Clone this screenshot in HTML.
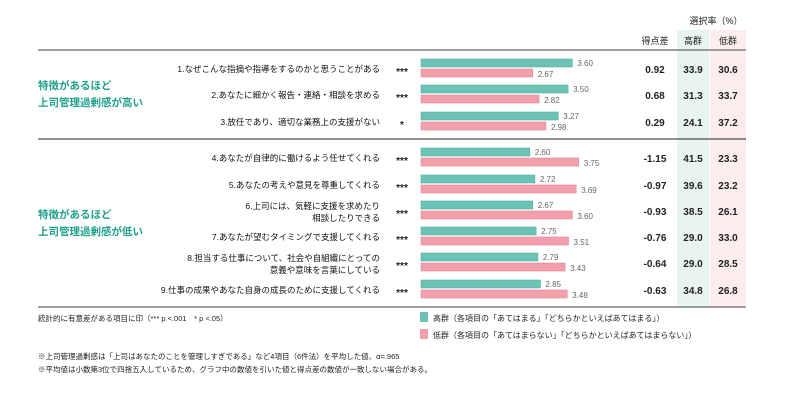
<!DOCTYPE html>
<html><head><meta charset="utf-8">
<style>
body{margin:0;background:#fff;width:790px;height:404px;overflow:hidden;font-family:"Liberation Sans","Noto Sans CJK JP",sans-serif;}
svg text{font-family:"Liberation Sans","Noto Sans CJK JP",sans-serif;}
</style></head>
<body>
<svg id="chart" width="790" height="404" xmlns="http://www.w3.org/2000/svg">
<rect x="677" y="30" width="32" height="277" fill="#e9f4f1"/>
<rect x="710" y="30" width="36" height="277" fill="#fcedef"/>
<text x="716" y="24" font-size="9" text-anchor="middle" fill="#222">選択率（%）</text>
<text x="655" y="44" font-size="9" text-anchor="middle" fill="#222">得点差</text>
<text x="693" y="44" font-size="9" text-anchor="middle" fill="#222">高群</text>
<text x="728" y="44" font-size="9" text-anchor="middle" fill="#222">低群</text>
<line x1="38" y1="50" x2="746" y2="50" stroke="#666" stroke-width="1.2"/>
<line x1="38" y1="139" x2="746" y2="139" stroke="#222" stroke-width="1"/>
<line x1="38" y1="307" x2="746" y2="307" stroke="#666" stroke-width="1.2"/>
<text font-size="10.5" font-weight="bold" fill="#1fa08b"><tspan x="38" y="89">特徴があるほど</tspan><tspan x="38" y="106">上司管理過剰感が高い</tspan></text>
<text font-size="10.5" font-weight="bold" fill="#1fa08b"><tspan x="38" y="218">特徴があるほど</tspan><tspan x="38" y="235">上司管理過剰感が低い</tspan></text>
<g id="rows"></g>
<rect x="420" y="312" width="8" height="10" fill="#6cc3b5"/>
<text x="433" y="321" font-size="8" fill="#222">高群（各項目の「あてはまる」「どちらかといえばあてはまる」）</text>
<rect x="420" y="329" width="8" height="10" fill="#f0a0ab"/>
<text x="433" y="338" font-size="8" fill="#222">低群（各項目の「あてはまらない」「どちらかといえばあてはまらない」）</text>
<text x="38" y="321" font-size="7.5" fill="#222">統計的に有意差がある項目に印（*** p &lt;.001　* p &lt;.05）</text>
<text x="38" y="359" font-size="7.5" fill="#222">※上司管理過剰感は「上司はあなたのことを管理しすぎである」など4項目（6件法）を平均した値、α=.965</text>
<text x="38" y="372" font-size="7.5" fill="#222">※平均値は小数第3位で四捨五入しているため、グラフ中の数値を引いた値と得点差の数値が一致しない場合がある。</text>
</svg>
<script>
const labels=[["1.なぜこんな指摘や指導をするのかと思うことがある"],["2.あなたに細かく報告・連絡・相談を求める"],["3.放任であり、適切な業務上の支援がない"],["4.あなたが自律的に働けるよう任せてくれる"],["5.あなたの考えや意見を尊重してくれる"],["6.上司には、気軽に支援を求めたり","相談したりできる"],["7.あなたが望むタイミングで支援してくれる"],["8.担当する仕事について、社会や自組織にとっての","意義や意味を言葉にしている"],["9.仕事の成果やあなた自身の成長のために支援してくれる"]];
const stars=["***","***","*","***","***","***","***","***","***"];
const highVals=[3.60,3.50,3.27,2.60,2.72,2.67,2.75,2.79,2.85];
const lowVals=[2.67,2.82,2.98,3.75,3.69,3.60,3.51,3.43,3.48];
const diffs=["0.92","0.68","0.29","-1.15","-0.97","-0.93","-0.76","-0.64","-0.63"];
const highPct=["33.9","31.3","24.1","41.5","39.6","38.5","29.0","29.0","34.8"];
const lowPct=["30.6","33.7","37.2","23.3","23.2","26.1","33.0","28.5","26.8"];
const ns="http://www.w3.org/2000/svg";
const g=document.getElementById('rows');
const rowTop=[59,85,112,148,175,201,227,253,280];
const xScale=v=>419+v*42.6;
function mk(tag,attrs,txt){const e=document.createElementNS(ns,tag);for(const k in attrs)e.setAttribute(k,attrs[k]);if(txt!==undefined)e.textContent=txt;g.appendChild(e);return e;}
for(let i=0;i<highVals.length;i++){
 const t=rowTop[i],c=t+13;
 const lb=labels[i];
 const lt=mk('text',{'font-size':'8.5','fill':'#111','text-anchor':'end'});
 
 
 lb.forEach((s,j)=>{const ts=document.createElementNS(ns,'tspan');ts.setAttribute('x','380');ts.setAttribute('y',lb.length==1?c:c-5+j*12);ts.textContent=s;lt.appendChild(ts);});
 const st=mk('text',{x:402,y:c+3,'font-size':'10','font-weight':'bold','fill':'#222','text-anchor':'middle'},stars[i]);
 
 
 const hb=mk('rect',{x:421,y:t,width:xScale(highVals[i])-421,height:8,fill:'#6cc3b5',stroke:'#4fb3a2','stroke-width':0.6});
 
 
 const lbar=mk('rect',{x:421,y:t+10,width:xScale(lowVals[i])-421,height:8,fill:'#f0a0ab',stroke:'#e88797','stroke-width':0.6});
 
 
 const hv=mk('text',{x:xScale(highVals[i])+5,y:t+7,'font-size':'8','fill':'#666'},highVals[i].toFixed(2));
 
 
 const lv=mk('text',{x:xScale(lowVals[i])+5,y:t+18,'font-size':'8','fill':'#666'},lowVals[i].toFixed(2));
 
 
 const d=mk('text',{x:655,y:c+1,'font-size':'10','font-weight':'bold','fill':'#222','text-anchor':'middle'},diffs[i]);
 
 
 const hp=mk('text',{x:693,y:c+1,'font-size':'10','font-weight':'bold','fill':'#222','text-anchor':'middle'},highPct[i]);
 
 
 const lp=mk('text',{x:728,y:c+1,'font-size':'10','font-weight':'bold','fill':'#222','text-anchor':'middle'},lowPct[i]);
 
 
}
</script>
</body></html>
